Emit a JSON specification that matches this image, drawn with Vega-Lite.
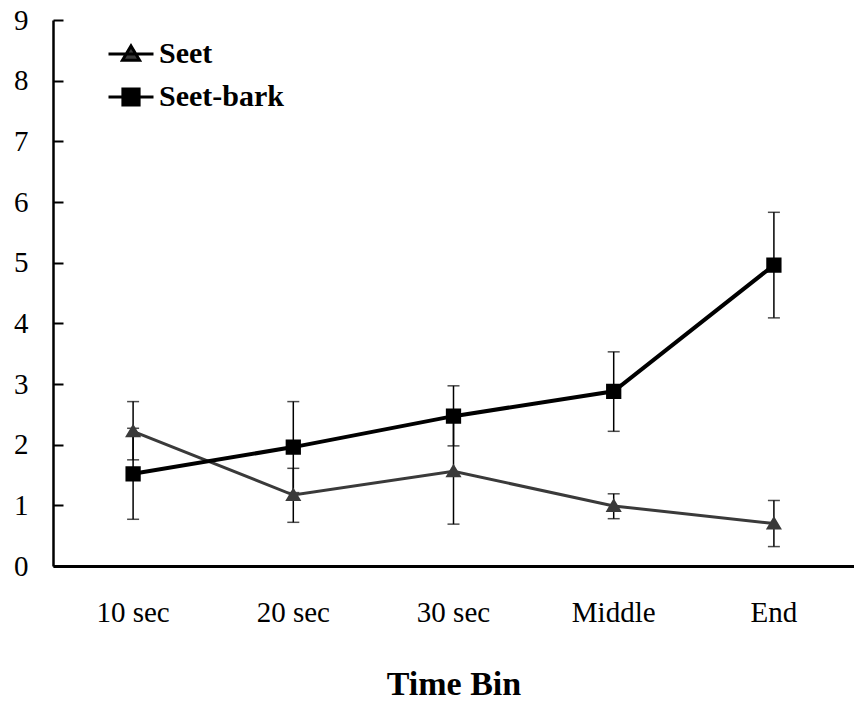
{
  "$schema": "https://vega.github.io/schema/vega-lite/v6.json",
  "width": 801,
  "height": 546,
  "autosize": "none",
  "padding": {"left": 53, "top": 20, "right": 0, "bottom": 138},
  "background": "white",
  "config": {
    "view": {"stroke": null},
    "font": "Liberation Serif"
  },
  "data": {
    "values": [
      {"bin": "10 sec", "series": "Seet", "mean": 2.22, "lo": 1.75, "hi": 2.71},
      {"bin": "20 sec", "series": "Seet", "mean": 1.17, "lo": 0.72, "hi": 1.61},
      {"bin": "30 sec", "series": "Seet", "mean": 1.56, "lo": 0.69, "hi": 2.43},
      {"bin": "Middle", "series": "Seet", "mean": 0.99, "lo": 0.78, "hi": 1.19},
      {"bin": "End", "series": "Seet", "mean": 0.70, "lo": 0.32, "hi": 1.08},
      {"bin": "10 sec", "series": "Seet-bark", "mean": 1.52, "lo": 0.77, "hi": 2.27},
      {"bin": "20 sec", "series": "Seet-bark", "mean": 1.96, "lo": 1.21, "hi": 2.71},
      {"bin": "30 sec", "series": "Seet-bark", "mean": 2.47, "lo": 1.98, "hi": 2.97},
      {"bin": "Middle", "series": "Seet-bark", "mean": 2.88, "lo": 2.22, "hi": 3.53},
      {"bin": "End", "series": "Seet-bark", "mean": 4.96, "lo": 4.09, "hi": 5.83}
    ]
  },
  "encoding": {
    "x": {
      "field": "bin",
      "type": "nominal",
      "sort": ["10 sec", "20 sec", "30 sec", "Middle", "End"],
      "scale": {"type": "band", "paddingInner": 0, "paddingOuter": 0},
      "axis": {
        "title": "Time Bin",
        "titleFont": "Liberation Serif",
        "titleFontSize": 34,
        "titleFontWeight": "bold",
        "titleColor": "black",
        "titlePadding": 40,
        "labelFont": "Liberation Serif",
        "labelFontSize": 29,
        "labelColor": "black",
        "labelAngle": 0,
        "labelPadding": 32,
        "ticks": false,
        "domainColor": "black",
        "domainWidth": 3,
        "grid": false
      }
    }
  },
  "layer": [
    {
      "mark": {"type": "rule", "color": "black", "strokeWidth": 1.5},
      "encoding": {
        "y": {"field": "lo", "type": "quantitative"},
        "y2": {"field": "hi"}
      }
    },
    {
      "mark": {"type": "tick", "color": "black", "thickness": 1.5, "size": 12},
      "encoding": {
        "y": {"field": "lo", "type": "quantitative"}
      }
    },
    {
      "mark": {"type": "tick", "color": "black", "thickness": 1.5, "size": 12},
      "encoding": {
        "y": {"field": "hi", "type": "quantitative"}
      }
    },
    {
      "transform": [{"filter": "datum.series === 'Seet'"}],
      "mark": {"type": "line", "color": "#3a3a3a", "strokeWidth": 3},
      "encoding": {
        "y": {"field": "mean", "type": "quantitative"}
      }
    },
    {
      "transform": [{"filter": "datum.series === 'Seet-bark'"}],
      "mark": {"type": "line", "color": "#000000", "strokeWidth": 4},
      "encoding": {
        "y": {"field": "mean", "type": "quantitative"}
      }
    },
    {
      "mark": {"type": "point", "filled": true, "opacity": 1, "size": 1800, "strokeWidth": 0},
      "encoding": {
        "y": {
          "field": "mean",
          "type": "quantitative",
          "scale": {"domain": [0, 9], "nice": false},
          "axis": {
            "title": null,
            "values": [0, 1, 2, 3, 4, 5, 6, 7, 8, 9],
            "format": "d",
            "labelFont": "Liberation Serif",
            "labelFontSize": 29,
            "labelColor": "black",
            "tickSize": -10,
            "tickColor": "black",
            "tickWidth": 2,
            "labelPadding": 35,
            "domainColor": "black",
            "domainWidth": 2.5,
            "grid": false
          }
        },
        "color": {
          "field": "series",
          "type": "nominal",
          "scale": {"domain": ["Seet", "Seet-bark"], "range": ["#3a3a3a", "#000000"]}
        },
        "shape": {
          "field": "series",
          "type": "nominal",
          "scale": {
            "domain": ["Seet", "Seet-bark"],
            "range": ["M-1,0H1M0,-0.36L0.38,0.28L-0.38,0.28Z", "M-1,0H1M-0.36,-0.36H0.36V0.36H-0.36Z"]
          },
          "legend": {
            "title": null,
            "orient": "none",
            "legendX": 54,
            "legendY": 10,
            "padding": 0,
            "symbolSize": 2025,
            "symbolStrokeWidth": 3,
            "symbolStrokeColor": "black",
            "labelFont": "Liberation Serif",
            "labelFontSize": 30,
            "labelFontWeight": "bold",
            "labelColor": "black",
            "labelOffset": 4,
            "rowPadding": 4,
            "encode": {
              "symbols": {
                "update": {
                  "stroke": {"signal": "datum.value === 'Seet' ? '#3a3a3a' : '#000000'"},
                  "strokeWidth": {"signal": "datum.value === 'Seet' ? 3 : 4"},
                  "opacity": {"value": 1},
                  "fillOpacity": {"value": 1}
                }
              }
            }
          }
        }
      }
    }
  ]
}
